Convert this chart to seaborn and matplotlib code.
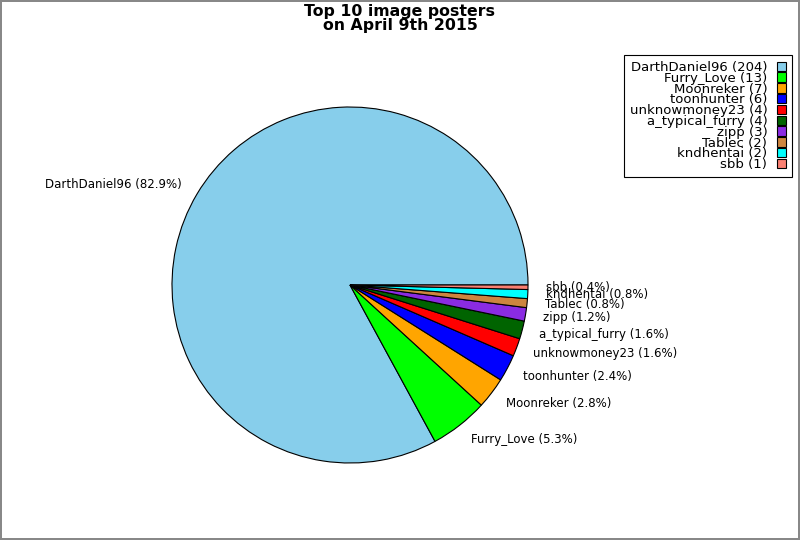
import matplotlib
matplotlib.use("Agg")
import matplotlib.pyplot as plt
import seaborn as sns

names = ["DarthDaniel96", "Furry_Love", "Moonreker", "toonhunter", "unknowmoney23",
         "a_typical_furry", "zipp", "Tablec", "kndhentai", "sbb"]
counts = [204, 13, 7, 6, 4, 4, 3, 2, 2, 1]
colors = ["skyblue", "lime", "orange", "blue", "red", "darkgreen",
          "blueviolet", "peru", "cyan", "salmon"]

sns.set_style("white")
plt.rcParams['font.family'] = ['DejaVu Sans']
plt.rcParams['text.color'] = 'black'

total = sum(counts)
pie_labels = [f"{n} ({c / total * 100:.1f}%)" for n, c in zip(names, counts)]
leg_labels = [f"{n} ({c})" for n, c in zip(names, counts)]

fig = plt.figure(figsize=(8, 5.4), dpi=100, facecolor="white",
                 edgecolor="#888888", linewidth=1.5)
ax = fig.add_axes([172 / 800, 77 / 540, 356 / 800, 356 / 540])
wedges, texts = ax.pie(counts, labels=pie_labels, colors=colors, startangle=0,
                       counterclock=True, labeldistance=1.1,
                       wedgeprops=dict(edgecolor="black", linewidth=0.8),
                       textprops=dict(fontsize=8.5, color="black"))
ax.set_xlim(-1, 1)
ax.set_ylim(-1, 1)
ax.set_aspect("equal")
ax.axis("off")

fig.suptitle("Top 10 image posters\non April 9th 2015", fontsize=11.3,
             fontweight="bold", color="black", y=0.993, linespacing=0.9)

leg = fig.legend(wedges, leg_labels, loc="upper right",
                 bbox_to_anchor=(792 / 800, 1 - 55 / 540),
                 bbox_transform=fig.transFigure, markerfirst=False,
                 fontsize=9.5, labelspacing=-0.167, handlelength=0.72,
                 handleheight=0.72, handletextpad=0.7, borderpad=0.45,
                 borderaxespad=0, fancybox=False, framealpha=1,
                 edgecolor="black")
leg.get_frame().set_linewidth(0.8)

fig.savefig("out.png", dpi=100, facecolor=fig.get_facecolor(),
            edgecolor=fig.get_edgecolor())
